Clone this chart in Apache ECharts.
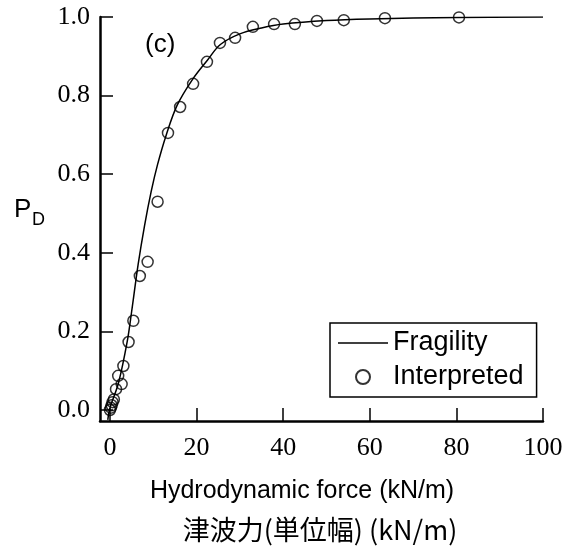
<!DOCTYPE html>
<html>
<head>
<meta charset="utf-8">
<script src="https://cdn.jsdelivr.net/npm/echarts@6/dist/echarts.min.js"></script>
<style>
  html, body { margin: 0; padding: 0; background: #fff; }
  #main { width: 566px; height: 549px; }
</style>
</head>
<body>
<div id="main"></div>
<script>
// fragility curve
var curveX = [-0.5, 0, 2, 4, 5, 6.5, 8, 9.5, 11, 13, 15.5, 19, 22.5, 25.5, 30, 35, 40, 50, 60, 80, 100];
var curveY = [-0.025, 0.005, 0.07, 0.175, 0.25, 0.37, 0.47, 0.555, 0.625, 0.70, 0.775, 0.84, 0.89, 0.93, 0.957, 0.972, 0.982, 0.991, 0.995, 0.999, 1.0];

// interpreted points
var ptsX = [0, 0.2, 0.4, 0.6, 0.9, 1.4, 1.9, 2.7, 3.1, 4.3, 5.4, 6.9, 8.7, 11.0, 13.4, 16.2, 19.2, 22.4, 25.4, 28.9, 33.0, 37.9, 42.7, 47.8, 54.0, 63.5, 80.6];
var ptsY = [0.0, 0.006, 0.012, 0.02, 0.027, 0.053, 0.087, 0.066, 0.112, 0.173, 0.227, 0.341, 0.377, 0.53, 0.705, 0.771, 0.83, 0.886, 0.934, 0.947, 0.975, 0.982, 0.982, 0.99, 0.992, 0.997, 0.999];

var xTicks = [0, 20, 40, 60, 80, 100];
var yTicks = [0, 0.2, 0.4, 0.6, 0.8, 1.0];

function zip(a, b) {
  var out = [];
  for (var i = 0; i < a.length; i++) out.push([a[i], b[i]]);
  return out;
}

var serif = '"Liberation Serif", "DejaVu Serif", serif';
var sans = '"Liberation Sans", Arial, sans-serif';

var chart = echarts.init(document.getElementById('main'));
var option = {
  animation: false,
  backgroundColor: '#fff',
  grid: { left: 100, right: 23, top: 17, bottom: 128 },
  xAxis: {
    type: 'value',
    min: -2.3,
    max: 100,
    splitLine: { show: false },
    axisLine: { onZero: false, lineStyle: { color: '#000', width: 2.5 } },
    axisTick: { inside: true, length: 13, customValues: xTicks, lineStyle: { color: '#000', width: 1.5 } },
    axisLabel: { customValues: xTicks, margin: 14, color: '#000', fontFamily: serif, fontSize: 26 }
  },
  yAxis: {
    type: 'value',
    min: -0.028,
    max: 1,
    splitLine: { show: false },
    axisLine: { onZero: false, lineStyle: { color: '#000', width: 2.5 } },
    axisTick: { inside: true, length: 13, customValues: yTicks, lineStyle: { color: '#000', width: 1.5 } },
    axisLabel: {
      customValues: yTicks, margin: 10, color: '#000', fontFamily: serif, fontSize: 26,
      formatter: function (v) { return v.toFixed(1); }
    }
  },
  legend: {
    orient: 'vertical',
    left: 330,
    top: 323,
    padding: [5, 13, 5, 8],
    itemGap: 4,
    itemWidth: 50,
    itemHeight: 14,
    symbolKeepAspect: true,
    borderColor: '#000',
    borderWidth: 1.5,
    textStyle: { color: '#000', fontFamily: sans, fontSize: 27, lineHeight: 30 },
    data: [
      { name: 'Fragility', icon: 'path://M0,0L50,0L50,1.5L0,1.5Z', itemStyle: { color: '#000', borderWidth: 0 } },
      'Interpreted'
    ]
  },
  graphic: [
    {
      type: 'text', left: 145, top: 32,
      style: { text: '(c)', font: '26px ' + sans, fill: '#000' }
    },
    {
      type: 'text', left: 14, top: 197,
      style: { text: 'P', font: '26px ' + sans, fill: '#000' }
    },
    {
      type: 'text', left: 32, top: 211,
      style: { text: 'D', font: '18px ' + sans, fill: '#000' }
    },
    {
      type: 'text', x: 302, y: 491,
      style: { text: 'Hydrodynamic force (kN/m)', font: '25px ' + sans, fill: '#000', textAlign: 'center', textVerticalAlign: 'middle' }
    },
    {
      type: 'text', x: 320, y: 530,
      style: { text: '津波力(単位幅) (kN/m)', font: '27px "Noto Sans CJK JP", sans-serif', fill: '#000', textAlign: 'center', textVerticalAlign: 'middle' }
    }
  ],
  series: [
    {
      name: 'Fragility',
      type: 'line',
      data: zip(curveX, curveY),
      smooth: 0.35,
      symbol: 'none',
      lineStyle: { color: '#000', width: 1.5 },
      itemStyle: { color: '#000' },
      z: 2
    },
    {
      name: 'Interpreted',
      type: 'scatter',
      data: zip(ptsX, ptsY),
      symbol: 'circle',
      symbolSize: 11,
      itemStyle: { color: 'rgba(0,0,0,0)', borderColor: '#000', borderWidth: 1.5 },
      z: 3
    }
  ]
};
chart.setOption(option);
</script>
</body>
</html>
